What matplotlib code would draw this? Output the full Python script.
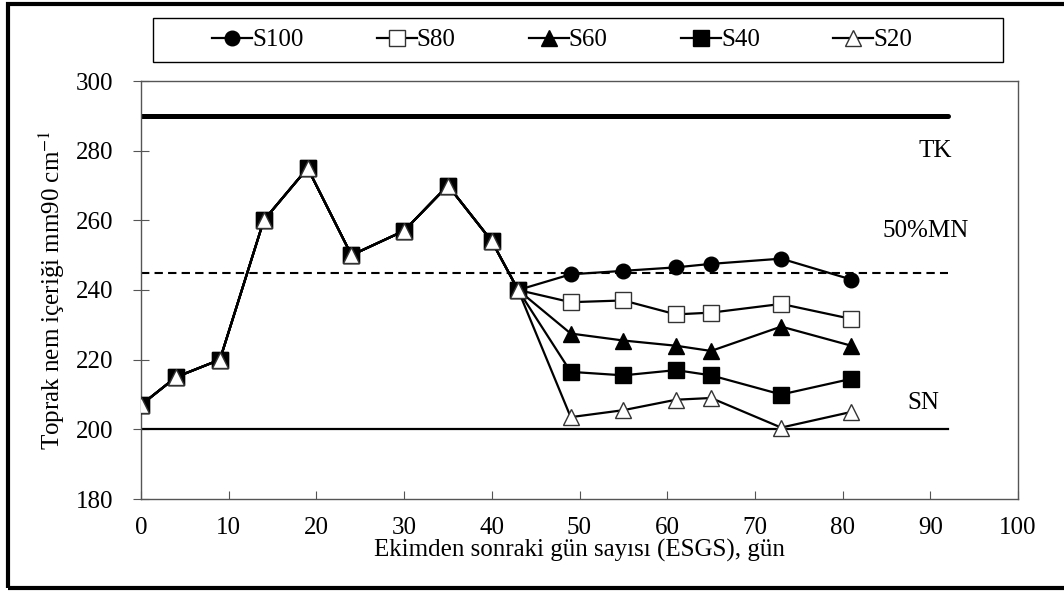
#!/usr/bin/env python3
# soil moisture over days after sowing, five irrigation levels
import matplotlib
matplotlib.use('Agg')
import matplotlib.pyplot as plt
from matplotlib.patches import Rectangle

plt.rcParams['font.family'] = ['Liberation Serif', 'DejaVu Serif']
plt.rcParams['mathtext.fontset'] = 'stix'

# days common to all treatments, then the split days
days_common = [0, 4, 9, 14, 19, 24, 30, 35, 40, 43]
moist_common = [207, 215, 220, 260, 275, 250, 257, 270, 254, 240]
days_split = [49, 55, 61, 65, 73, 81]
s100 = [244.5, 245.5, 246.5, 247.5, 249, 243]
s80 = [236.5, 237, 233, 233.5, 236, 231.7]
s60 = [227.5, 225.5, 224, 222.5, 229.5, 224]
s40 = [216.5, 215.5, 217, 215.5, 210, 214.5]
s20 = [203.5, 205.5, 208.5, 209, 200.5, 205]
names = ['S100', 'S80', 'S60', 'S40', 'S20']

tk = 290
mn50 = 245
sn = 200
ref_end = 92

W, H = 1064.0, 592.0
fig = plt.figure(figsize=(10.64, 5.92), dpi=100)
ax = fig.add_axes([141 / W, 1 - 499 / H, 877 / W, 418 / H])

styles = [('o', 'black'), ('s', 'white'), ('^', 'black'), ('s', 'black'), ('^', 'white')]
series = [s100, s80, s60, s40, s20]

ax.plot([0, ref_end], [tk, tk], color='black', lw=3.6, solid_capstyle='round')
ax.plot([0, ref_end], [mn50, mn50], color='black', lw=1.5, ls=(0, (4, 2.5)))
ax.plot([0, ref_end], [sn, sn], color='black', lw=1.6)

handles = []
for i in range(len(series)):
    mk, fc = styles[i]
    xs = days_common + days_split
    ys = moist_common + series[i]
    ms = 10.5 if mk == 'o' else 11
    h, = ax.plot(xs, ys, color='black', lw=1.6, marker=mk, markersize=ms,
                 markerfacecolor=fc, markeredgecolor='black' if fc == 'black' else '#333333',
                 markeredgewidth=1.0, label=names[i], zorder=3 + i)
    handles.append(h)

ax.text(90.6, 279.8, 'TK', ha='center', va='center', fontsize=18)
ax.text(89.5, 256.8, '50%MN', ha='center', va='center', fontsize=18)
ax.text(89.2, 207.6, 'SN', ha='center', va='center', fontsize=18)

ax.set_xlim(0, 100)
ax.set_ylim(180, 300)
ax.set_xticks(range(0, 101, 10))
ax.set_yticks(range(180, 301, 20))
ax.tick_params(axis='x', direction='in', length=6, labelsize=18, pad=13, color='#555555')
ax.tick_params(axis='y', direction='inout', length=12, labelsize=18, pad=14, color='#555555')
for s in ax.spines.values():
    s.set_color('#555555')
    s.set_linewidth(1.0)

ax.set_xlabel('Ekimden sonraki gün sayısı (ESGS), gün', fontsize=18, labelpad=0)
ax.set_ylabel('Toprak nem içeriği mm90 cm$^{-1}$', fontsize=18, labelpad=6)

# legend frame drawn separately, entries spread over a narrower band
fig.patches.append(Rectangle((153 / W, 1 - 62 / H), 850 / W, 44 / H, transform=fig.transFigure,
                             fill=False, lw=1.0, edgecolor='black'))
leg = fig.legend(handles=handles, loc='center', ncol=5, mode='expand',
                 bbox_to_anchor=(212 / W, 1 - 62 / H, 700 / W, 44 / H),
                 bbox_transform=fig.transFigure, fontsize=18, frameon=False,
                 handlelength=1.6, handletextpad=0.0, borderpad=0.0, borderaxespad=0.0)

fig.patches.append(Rectangle((8 / W, 4 / H), 1.2, 1 - 8 / H, transform=fig.transFigure,
                             fill=False, lw=3, edgecolor='black'))

fig.savefig('out.png', dpi=100)
